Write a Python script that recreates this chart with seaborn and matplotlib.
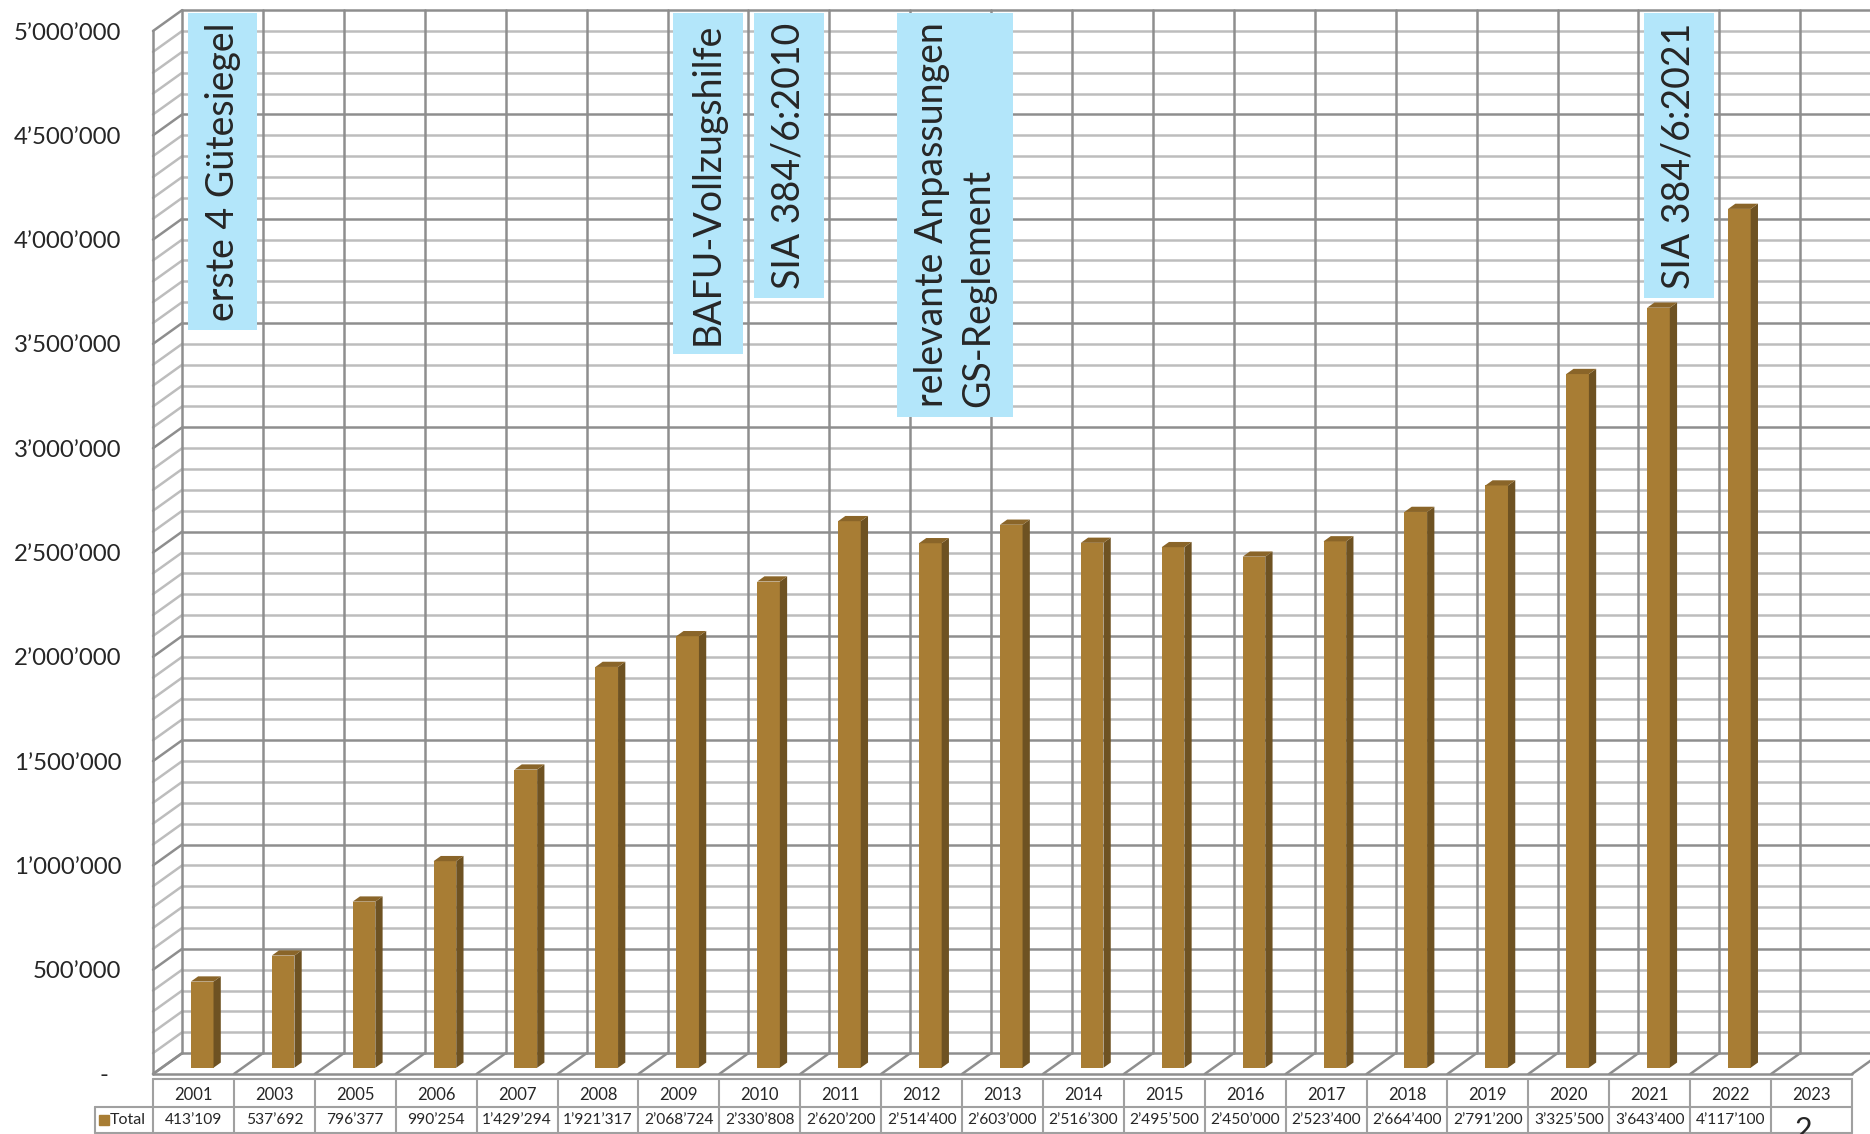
import numpy as np
import pandas as pd
import matplotlib.pyplot as plt
import matplotlib.transforms as mtransforms
from matplotlib.patches import Polygon
from matplotlib.path import Path
from matplotlib.ticker import FuncFormatter
import seaborn as sns

# Data
years = ['2001', '2003', '2005', '2006', '2007', '2008', '2009', '2010', '2011', '2012', '2013',
         '2014', '2015', '2016', '2017', '2018', '2019', '2020', '2021', '2022', '2023']
totals = [413109, 537692, 796377, 990254, 1429294, 1921317, 2068724, 2330808, 2620200, 2514400,
          2603000, 2516300, 2495500, 2450000, 2523400, 2664400, 2791200, 3325500, 3643400, 4117100]
total_2023_cell = '2'   # cell for 2023 is cut off in the original

note_years = ['2001', '2009', '2010', '2012', '2021']
note_texts = ['erste 4 Gütesiegel', 'BAFU-Vollzugshilfe', 'SIA 384/6:2010',
              'relevante Anpassungen\nGS-Reglement', 'SIA 384/6:2021']

# Style
front_col = '#A87D34'
side_col = '#6E5222'
top_col = '#8A6529'
grid_major = '#8E8E8E'
grid_minor = '#BDBDBD'
note_col = '#B3E6FA'
table_line = '#A0A0A0'

# pseudo 3d depth (category units / value units)
DX = 0.36
DY = 100000
Z0, Z1 = 0.30, 0.55


def note_box(x0, y0, width, height, mutation_size):
    # less padding along the text, more across it
    pl = 0.25 * mutation_size
    pa = 0.45 * mutation_size
    x0, y0 = x0 - pl, y0 - pa
    x1, y1 = x0 + width + 2 * pl, y0 + height + 2 * pa
    return Path([(x0, y0), (x1, y0), (x1, y1), (x0, y1), (x0, y0)], closed=True)


sns.set_style('white')
plt.rcParams['font.family'] = ['Lato', 'DejaVu Sans']

fig = plt.figure(figsize=(18.7, 11.34), dpi=100)
ax = fig.add_axes([153 / 1870, 60 / 1134, 1699 / 1870, 1043 / 1134])

df = pd.DataFrame({'year': years[:len(totals)], 'total': totals})
sns.barplot(data=df, x='year', y='total', order=years, width=0.28, color=front_col,
            saturation=1, edgecolor='none', ax=ax, zorder=3)

n = len(years)
ax.set_xlim(-0.5, n - 0.5)
ax.set_ylim(0, 5000000)

# walls and floor
lw = 1.8
for v in range(0, 5000001, 100000):
    c = grid_major if v % 500000 == 0 else grid_minor
    ax.plot([-0.5 + DX, n - 0.5 + DX], [v + DY, v + DY], color=c, lw=lw, zorder=1, clip_on=False)
    ax.plot([-0.5, -0.5 + DX], [v, v + DY], color=c, lw=lw, zorder=1, clip_on=False)
for k in range(n + 1):
    ax.plot([k - 0.5 + DX, k - 0.5 + DX], [DY, 5000000 + DY], color=grid_major, lw=lw, zorder=1, clip_on=False)
    ax.plot([k - 0.5, k - 0.5 + DX], [0, DY], color=grid_major, lw=lw, zorder=1, clip_on=False)
ax.plot([-0.5, n - 0.5], [0, 0], color=grid_major, lw=lw, zorder=2, clip_on=False)
ax.plot([-0.5, -0.5], [0, 5000000], color=grid_major, lw=lw, zorder=2, clip_on=False)

# turn flat bars into boxes
for p in list(ax.patches):
    x0 = p.get_x() + Z0 * DX
    y0 = Z0 * DY
    w = p.get_width()
    h = p.get_height()
    if not np.isfinite(h) or h <= 0:
        continue
    p.set_x(x0)
    p.set_y(y0)
    ddx = (Z1 - Z0) * DX
    ddy = (Z1 - Z0) * DY
    x1 = x0 + w
    y1 = y0 + h
    ax.add_patch(Polygon([(x1, y0), (x1, y1), (x1 + ddx, y1 + ddy), (x1 + ddx, y0 + ddy)],
                         closed=True, facecolor=side_col, edgecolor='none', zorder=3))
    ax.add_patch(Polygon([(x0, y1), (x1, y1), (x1 + ddx, y1 + ddy), (x0 + ddx, y1 + ddy)],
                         closed=True, facecolor=top_col, edgecolor='none', zorder=3))

# axes styling
for s in ax.spines.values():
    s.set_visible(False)
ax.set_yticks(np.arange(0, 5000001, 500000))
ax.yaxis.set_major_formatter(FuncFormatter(
    lambda v, pos: '-  ' if v == 0 else f'{int(round(v)):,}'.replace(',', '\u2019')))
ax.tick_params(axis='y', length=7, width=1.5, color=grid_major, pad=16, labelsize=17.3)
ax.set_xticks([])
ax.set_xlabel('')
ax.set_ylabel('')

# annotations
for yr, txt in zip(note_years, note_texts):
    xi = years.index(yr) + DX + (0.05 if '\n' in txt else 0)
    ax.text(xi, 5041000, txt, rotation=90, ha='center', va='top', fontsize=27,
            multialignment='left', linespacing=1.35, zorder=5, clip_on=False,
            bbox=dict(boxstyle=note_box, facecolor=note_col, edgecolor='none'))

# data table
tr = mtransforms.blended_transform_factory(ax.transData, ax.transAxes)
t_top, t_mid, t_bot = -0.0045, -0.0315, -0.0565
leg_x = -1.22
ax.plot([-0.5, n - 0.5], [t_top, t_top], color=table_line, lw=1.5, transform=tr, clip_on=False)
ax.plot([leg_x, n - 0.5], [t_mid, t_mid], color=table_line, lw=1.5, transform=tr, clip_on=False)
ax.plot([leg_x, n - 0.5], [t_bot, t_bot], color=table_line, lw=1.5, transform=tr, clip_on=False)
for k in range(n + 1):
    ax.plot([k - 0.5, k - 0.5], [t_top, t_bot], color=table_line, lw=1.5, transform=tr, clip_on=False)
ax.plot([leg_x, leg_x], [t_mid, t_bot], color=table_line, lw=1.5, transform=tr, clip_on=False)

for i, yr in enumerate(years):
    ax.text(i, (t_top + t_mid) / 2 - 0.002, yr, ha='center', va='center', fontsize=12, transform=tr)
for i, v in enumerate(totals):
    ax.text(i, (t_mid + t_bot) / 2, f'{v:,}'.replace(',', '\u2019'), ha='center', va='center',
            fontsize=11.2, transform=tr)
ax.text(n - 1.1, -0.040, total_2023_cell, ha='center', va='top', fontsize=22, transform=tr, clip_on=False)
ax.plot([leg_x + 0.11], [(t_mid + t_bot) / 2], marker='s', ms=7, color=front_col, transform=tr, clip_on=False)
ax.text(leg_x + 0.18, (t_mid + t_bot) / 2, 'Total', ha='left', va='center', fontsize=11.5, transform=tr)

fig.savefig('out.png', dpi=100)
